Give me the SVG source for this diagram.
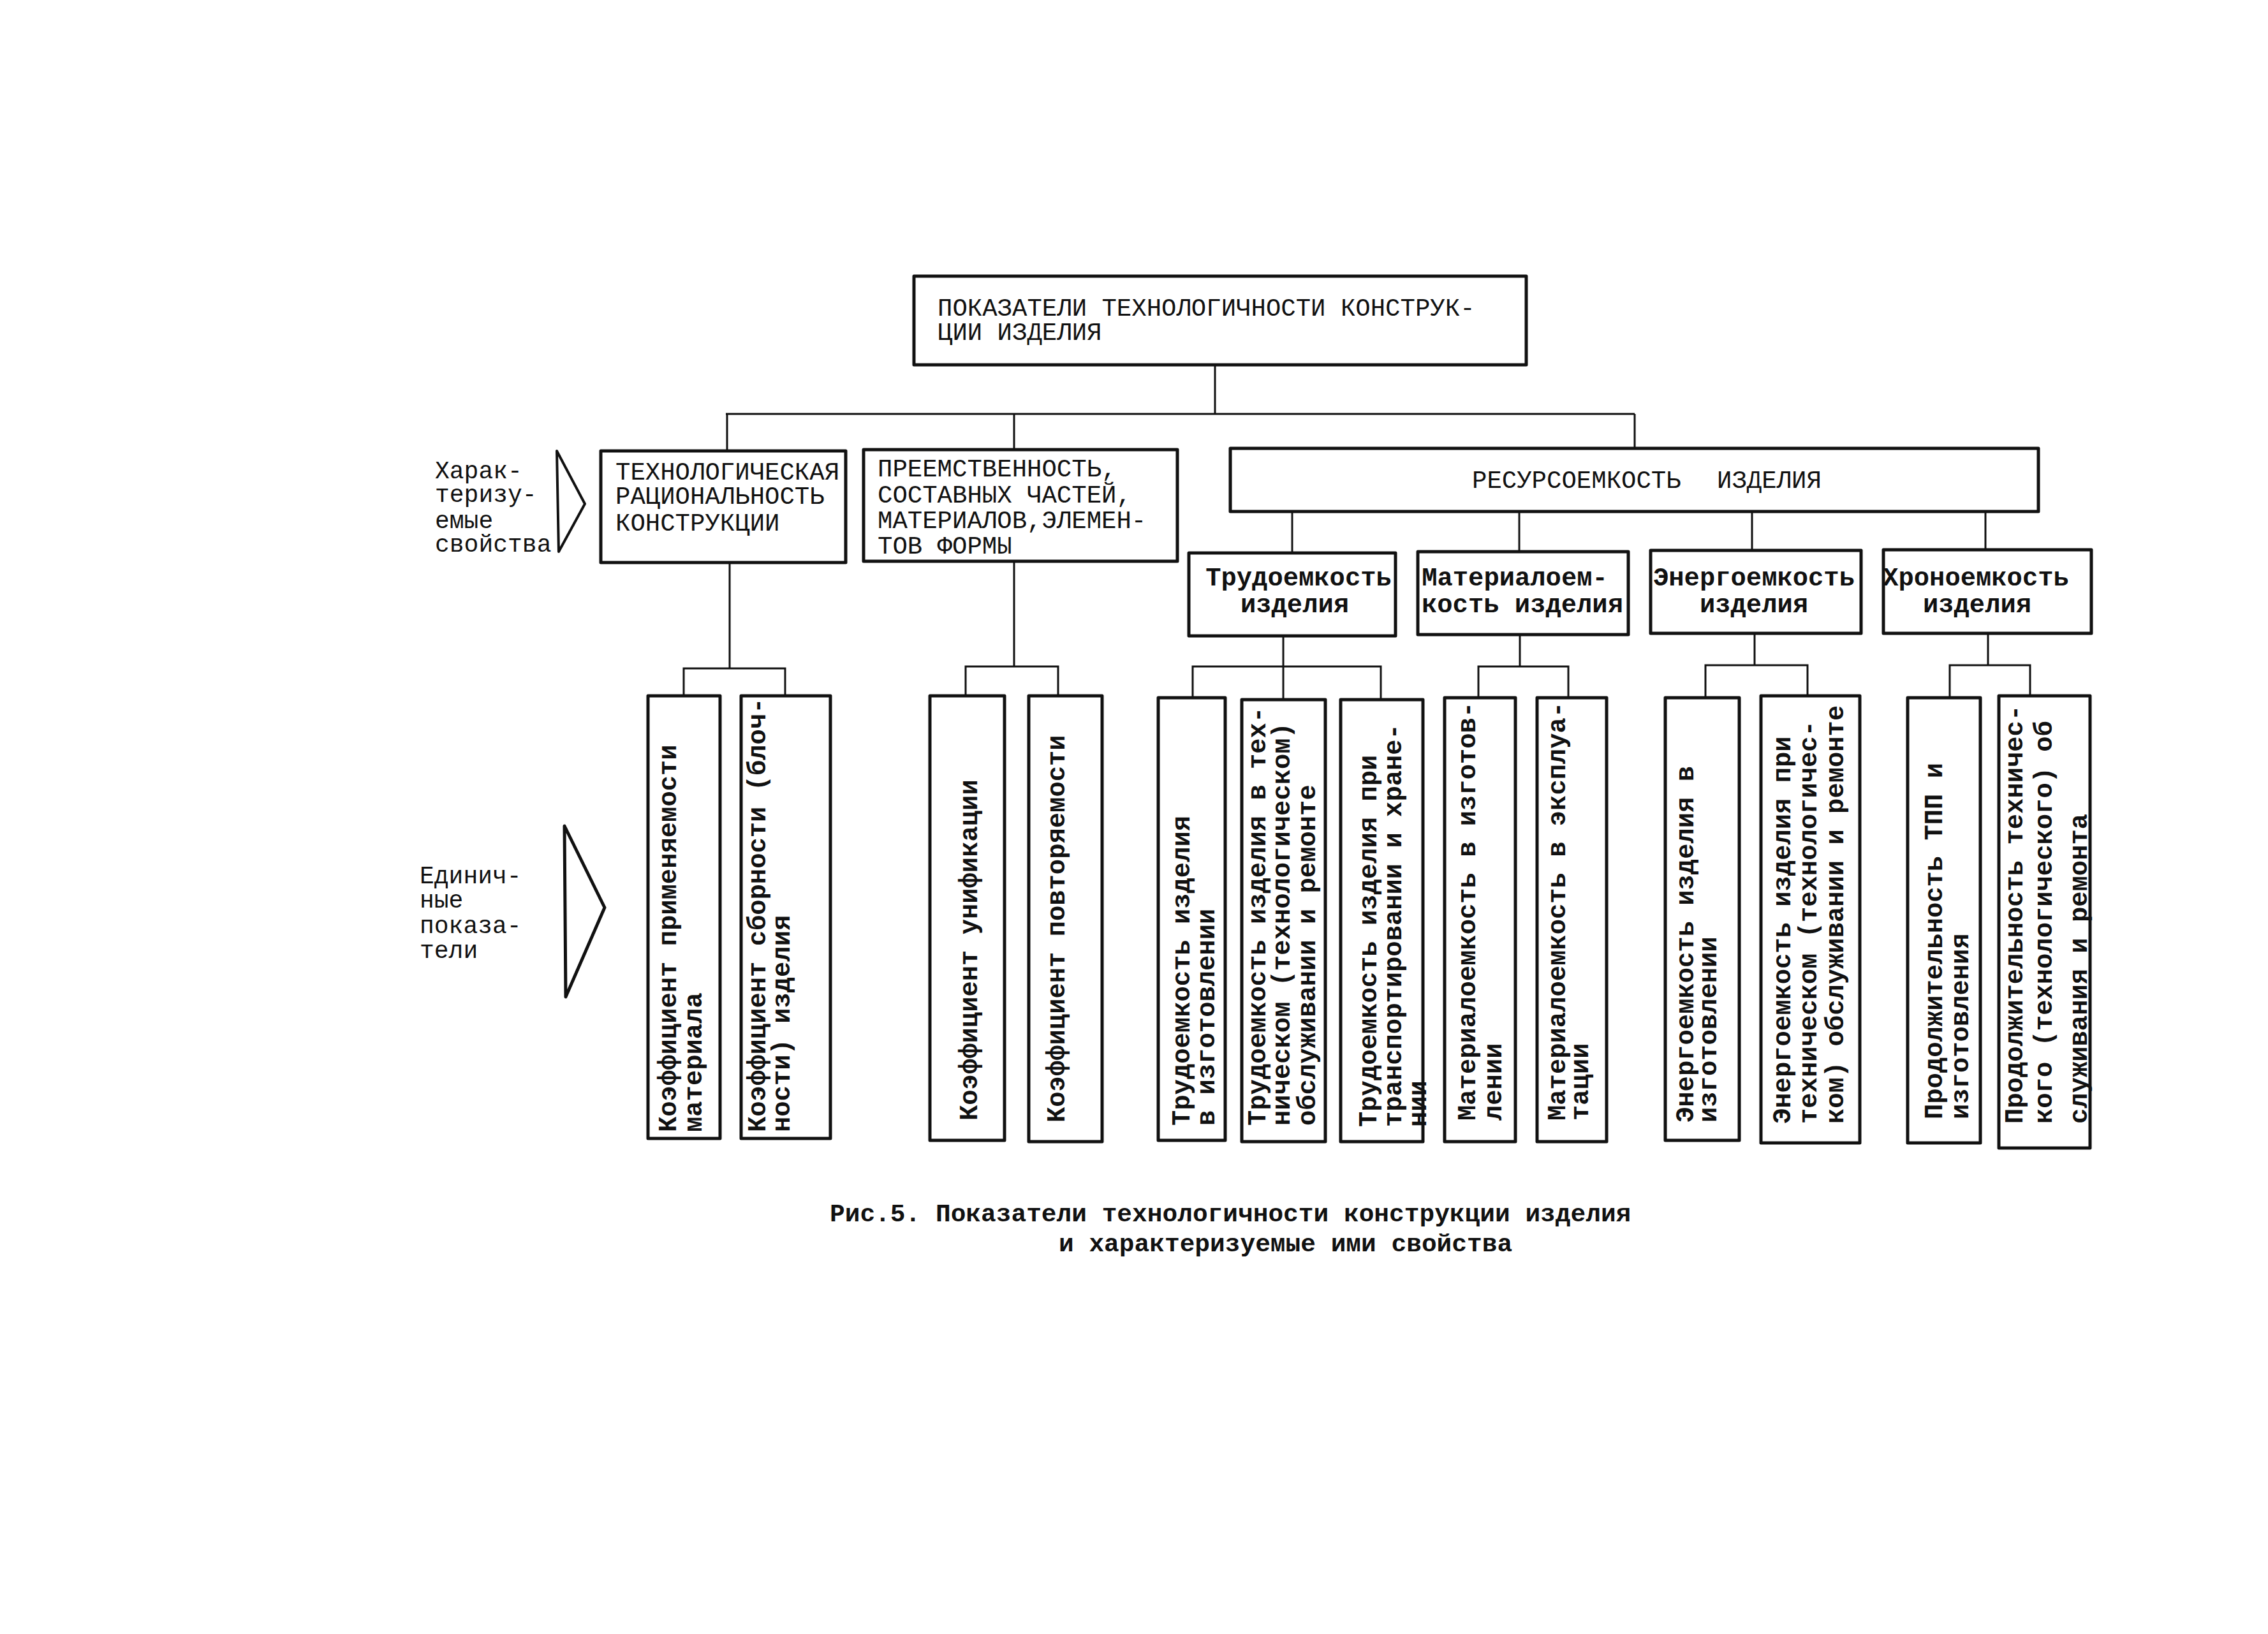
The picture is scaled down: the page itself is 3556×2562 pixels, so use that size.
<svg xmlns="http://www.w3.org/2000/svg" width="3556" height="2562" viewBox="0 0 3556 2562">
<style>
.bg{fill:#fff}
.box{fill:none;stroke:#111;stroke-width:5;stroke-linejoin:round}
.ln{fill:none;stroke:#111;stroke-width:3}
.br{fill:none;stroke:#111;stroke-width:4;stroke-linejoin:round}
.cap{font-family:"Liberation Mono","DejaVu Sans Mono",monospace;font-size:39px;fill:#111}
.lc{font-family:"Liberation Mono","DejaVu Sans Mono",monospace;font-size:40.5px;font-weight:bold;fill:#111}
.lab{font-family:"Liberation Mono","DejaVu Sans Mono",monospace;font-size:38px;fill:#111}
.cap2{font-family:"Liberation Mono","DejaVu Sans Mono",monospace;font-size:39.5px;font-weight:bold;fill:#111}
</style>
<rect class="bg" x="0" y="0" width="3556" height="2562"/>

<g id="connectors">
<line class="ln" x1="1905" y1="572" x2="1905" y2="649"/>
<line class="ln" x1="1138" y1="649" x2="2563" y2="649"/>
<line class="ln" x1="1140" y1="649" x2="1140" y2="707"/>
<line class="ln" x1="1590" y1="649" x2="1590" y2="705"/>
<line class="ln" x1="2563" y1="649" x2="2563" y2="703"/>
<line class="ln" x1="2026" y1="802" x2="2026" y2="867"/>
<line class="ln" x1="2382" y1="802" x2="2382" y2="865"/>
<line class="ln" x1="2747" y1="802" x2="2747" y2="863"/>
<line class="ln" x1="3113" y1="802" x2="3113" y2="862"/>
<polyline class="ln" points="1144,882 1144,1048"/>
<polyline class="ln" points="1072,1091 1072,1048 1231,1048 1231,1091"/>
<polyline class="ln" points="1590,880 1590,1045"/>
<polyline class="ln" points="1514,1091 1514,1045 1659,1045 1659,1091"/>
<polyline class="ln" points="2012,997 2012,1097"/>
<polyline class="ln" points="1870,1094 1870,1045 2165,1045 2165,1097"/>
<polyline class="ln" points="2383,995 2383,1045"/>
<polyline class="ln" points="2318,1094 2318,1045 2459,1045 2459,1094"/>
<polyline class="ln" points="2751,993 2751,1043"/>
<polyline class="ln" points="2674,1094 2674,1043 2834,1043 2834,1091"/>
<polyline class="ln" points="3117,993 3117,1043"/>
<polyline class="ln" points="3057,1094 3057,1043 3183,1043 3183,1091"/>
</g>

<g id="label-properties">
<polygon class="br" points="873,707 917,790 876,865"/>
<text class="lab"><tspan x="682" y="750">Харак-</tspan><tspan x="682" y="787">теризу-</tspan><tspan x="682" y="828">емые</tspan><tspan x="682" y="865">свойства</tspan></text>
</g>

<g id="label-indicators">
<polygon class="br" style="stroke-width:5" points="885,1295 948,1423 887,1563"/>
<text class="lab"><tspan x="658" y="1385">Единич-</tspan><tspan x="658" y="1423">ные</tspan><tspan x="658" y="1463">показа-</tspan><tspan x="658" y="1502">тели</tspan></text>
</g>

<g id="n-root">
<rect class="box" x="1433" y="433" width="960" height="139"/>
<text class="cap"><tspan x="1470" y="495">ПОКАЗАТЕЛИ ТЕХНОЛОГИЧНОСТИ КОНСТРУК-</tspan><tspan x="1470" y="533">ЦИИ ИЗДЕЛИЯ</tspan></text>
</g>

<g id="n-rational">
<rect class="box" x="942" y="707" width="384" height="175"/>
<text class="cap"><tspan x="965" y="752">ТЕХНОЛОГИЧЕСКАЯ</tspan><tspan x="965" y="790">РАЦИОНАЛЬНОСТЬ</tspan><tspan x="965" y="832">КОНСТРУКЦИИ</tspan></text>
</g>

<g id="n-succession">
<rect class="box" x="1354" y="705" width="492" height="175"/>
<text class="cap"><tspan x="1376" y="747">ПРЕЕМСТВЕННОСТЬ,</tspan><tspan x="1376" y="788">СОСТАВНЫХ ЧАСТЕЙ,</tspan><tspan x="1376" y="828">МАТЕРИАЛОВ,ЭЛЕМЕН-</tspan><tspan x="1376" y="868">ТОВ ФОРМЫ</tspan></text>
</g>

<g id="n-resource">
<rect class="box" x="1929" y="703" width="1267" height="99"/>
<text class="cap"><tspan x="2308" y="765">РЕСУРСОЕМКОСТЬ</tspan><tspan x="2692" y="765">ИЗДЕЛИЯ</tspan></text>
</g>

<g id="n-labor">
<rect class="box" x="1864" y="867" width="324" height="130"/>
<text class="lc" text-anchor="middle"><tspan x="2036" y="918">Трудоемкость</tspan><tspan x="2030" y="960">изделия</tspan></text>
</g>
<g id="n-material">
<rect class="box" x="2223" y="865" width="330" height="130"/>
<text class="lc" text-anchor="middle"><tspan x="2375" y="918">Материалоем-</tspan><tspan x="2387" y="960">кость изделия</tspan></text>
</g>
<g id="n-energy">
<rect class="box" x="2588" y="863" width="330" height="130"/>
<text class="lc" text-anchor="middle"><tspan x="2750" y="918">Энергоемкость</tspan><tspan x="2750" y="960">изделия</tspan></text>
</g>
<g id="n-time">
<rect class="box" x="2953" y="862" width="326" height="131"/>
<text class="lc" text-anchor="middle"><tspan x="3098" y="918">Хроноемкость</tspan><tspan x="3100" y="960">изделия</tspan></text>
</g>

<g id="n-a">
<rect class="box" x="1016" y="1091" width="113" height="694"/>
<text class="lc" transform="translate(1060,1775) rotate(-90)"><tspan x="0" y="0">Коэффициент применяемости</tspan><tspan x="0" y="40">материала</tspan></text>
</g>
<g id="n-b">
<rect class="box" x="1162" y="1091" width="140" height="694"/>
<text class="lc" transform="translate(1200,1775) rotate(-90)"><tspan x="0" y="0">Коэффициент сборности (блоч-</tspan><tspan x="0" y="38">ности) изделия</tspan></text>
</g>
<g id="n-c">
<rect class="box" x="1458" y="1091" width="117" height="697"/>
<text class="lc" transform="translate(1532,1757) rotate(-90)"><tspan x="0" y="0">Коэффициент унификации</tspan></text>
</g>
<g id="n-d">
<rect class="box" x="1613" y="1091" width="115" height="699"/>
<text class="lc" transform="translate(1669,1760) rotate(-90)"><tspan x="0" y="0">Коэффициент повторяемости</tspan></text>
</g>
<g id="n-e">
<rect class="box" x="1816" y="1094" width="105" height="694"/>
<text class="lc" transform="translate(1865,1765) rotate(-90)"><tspan x="0" y="0">Трудоемкость изделия</tspan><tspan x="0" y="39">в изготовлении</tspan></text>
</g>
<g id="n-f">
<rect class="box" x="1947" y="1097" width="131" height="693"/>
<text class="lc" transform="translate(1984,1765) rotate(-90)"><tspan x="0" y="0">Трудоемкость изделия в тех-</tspan><tspan x="0" y="38">ническом (технологическом)</tspan><tspan x="0" y="78">обслуживании и ремонте</tspan></text>
</g>
<g id="n-g">
<rect class="box" x="2102" y="1097" width="129" height="693"/>
<text class="lc" transform="translate(2158,1767) rotate(-90)"><tspan x="0" y="0">Трудоемкость изделия при</tspan><tspan x="0" y="39">транспортировании и хране-</tspan><tspan x="0" y="78">нии</tspan></text>
</g>
<g id="n-h">
<rect class="box" x="2265" y="1094" width="111" height="696"/>
<text class="lc" transform="translate(2313,1757) rotate(-90)"><tspan x="0" y="0">Материалоемкость в изготов-</tspan><tspan x="0" y="41">лении</tspan></text>
</g>
<g id="n-i">
<rect class="box" x="2410" y="1094" width="109" height="696"/>
<text class="lc" transform="translate(2454,1757) rotate(-90)"><tspan x="0" y="0">Материалоемкость в эксплуа-</tspan><tspan x="0" y="36">тации</tspan></text>
</g>
<g id="n-j">
<rect class="box" x="2611" y="1094" width="116" height="694"/>
<text class="lc" transform="translate(2655,1760) rotate(-90)"><tspan x="0" y="0">Энергоемкость изделия в</tspan><tspan x="0" y="36">изготовлении</tspan></text>
</g>
<g id="n-k">
<rect class="box" x="2761" y="1091" width="155" height="701"/>
<text class="lc" transform="translate(2807,1762) rotate(-90)"><tspan x="0" y="0">Энергоемкость изделия при</tspan><tspan x="0" y="41">техническом (технологичес-</tspan><tspan x="0" y="83">ком) обслуживании и ремонте</tspan></text>
</g>
<g id="n-l">
<rect class="box" x="2991" y="1094" width="114" height="698"/>
<text class="lc" transform="translate(3045,1755) rotate(-90)"><tspan x="0" y="0">Продолжительность ТПП и</tspan><tspan x="0" y="41">изготовления</tspan></text>
</g>
<g id="n-m">
<rect class="box" x="3134" y="1091" width="143" height="709"/>
<text class="lc" transform="translate(3171,1762) rotate(-90)"><tspan x="0" y="0">Продолжительность техничес-</tspan><tspan x="0" y="46">кого (технологического) об</tspan><tspan x="0" y="101">служивания и ремонта</tspan></text>
</g>

<g id="caption">
<text class="cap2"><tspan x="1301" y="1915">Рис.5. Показатели технологичности конструкции изделия</tspan><tspan x="1660" y="1962">и характеризуемые ими свойства</tspan></text>
</g>
</svg>
